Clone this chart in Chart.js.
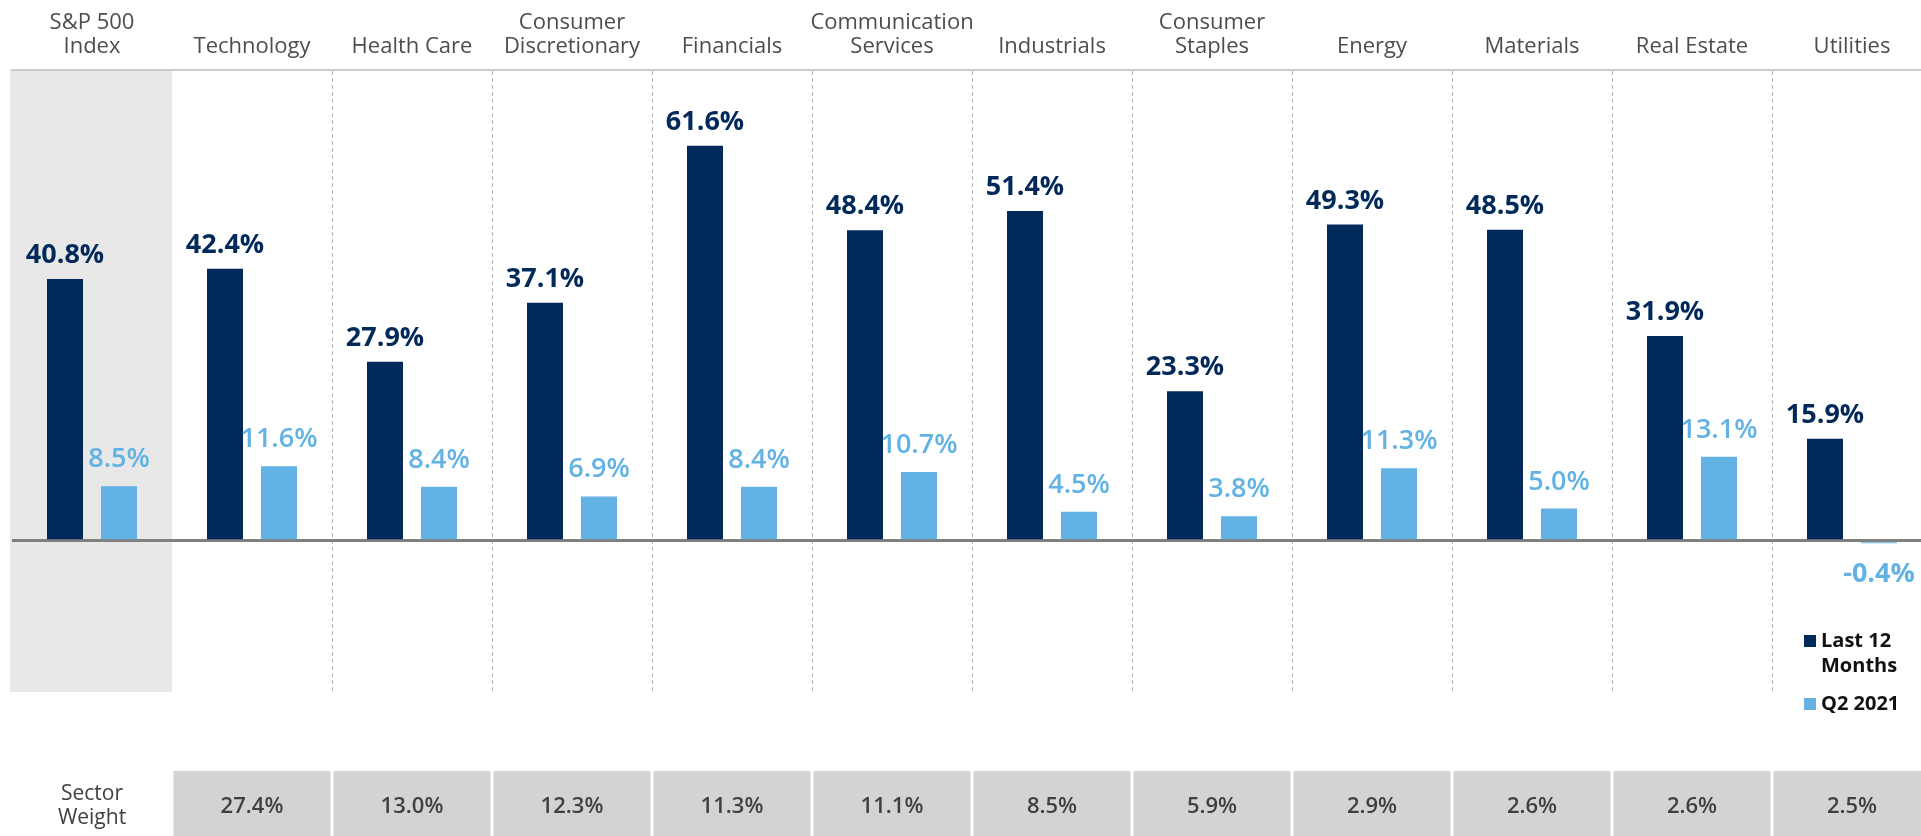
<!DOCTYPE html>
<html>
<head>
<meta charset="utf-8">
<title>Sector returns</title>
<script src="https://cdn.jsdelivr.net/npm/chart.js@4.4.1/dist/chart.umd.min.js"></script>
<style>
  html, body { margin: 0; padding: 0; background: #fff; overflow: hidden; }
  #wrap { width: 1934px; height: 836px; }
</style>
</head>
<body>
<div id="wrap"><canvas id="chart" width="1934" height="836"></canvas></div>
<script>
(function () {
  'use strict';

  // data
  const categories = [
    ['S&P 500', 'Index'], 'Technology', 'Health Care', ['Consumer', 'Discretionary'],
    'Financials', ['Communication', 'Services'], 'Industrials', ['Consumer', 'Staples'],
    'Energy', 'Materials', 'Real Estate', 'Utilities',
  ];
  const last12Months = [40.8, 42.4, 27.9, 37.1, 61.6, 48.4, 51.4, 23.3, 49.3, 48.5, 31.9, 15.9];
  const q2_2021      = [8.5, 11.6, 8.4, 6.9, 8.4, 10.7, 4.5, 3.8, 11.3, 5.0, 13.1, -0.4];
  const sectorWeights = [null, 27.4, 13.0, 12.3, 11.3, 11.1, 8.5, 5.9, 2.9, 2.6, 2.6, 2.5];
  const weightTitle  = ['Sector', 'Weight'];
  const seriesNames  = ['Last 12 Months', 'Q2 2021'];
  const legendLines  = [['Last 12', 'Months'], ['Q2 2021']];

  const FONT = '"Open Sans", "Noto Sans", sans-serif';
  const NAVY = '#01295A';
  const SKY  = '#62B2E4';

  function pct(v) { return v.toFixed(1) + '%'; }

  // grey backdrop behind the index column
  const benchmarkPanel = {
    id: 'benchmarkPanel',
    beforeDraw(chart) {
      const { ctx, chartArea, scales: { x } } = chart;
      const half = x.width / categories.length / 2;
      const cx = x.getPixelForValue(0);
      ctx.save();
      ctx.fillStyle = '#E8E8E8';
      ctx.fillRect(cx - half - 2, chartArea.top, half * 2 + 2, chartArea.bottom - chartArea.top);
      ctx.restore();
    },
  };

  const valueLabels = {
    id: 'valueLabels',
    afterDatasetsDraw(chart) {
      const { ctx } = chart;
      ctx.save();
      ctx.textAlign = 'center';
      ctx.textBaseline = 'alphabetic';
      chart.data.datasets.forEach((ds, di) => {
        chart.getDatasetMeta(di).data.forEach((bar, i) => {
          const v = ds.data[i];
          const neg = v < 0;
          ctx.fillStyle = ds.backgroundColor;
          ctx.font = `${neg || di === 0 ? 700 : 600} 27px ${FONT}`;
          const y = neg ? bar.y + 39 : bar.y - (di === 0 ? 16 : 19);
          ctx.fillText(pct(v), bar.x, y);
        });
      });
      ctx.restore();
    },
  };

  const weightRow = {
    id: 'weightRow',
    afterDraw(chart) {
      const { ctx, chartArea, scales: { x } } = chart;
      const colW = x.width / categories.length;
      const top = chartArea.bottom + 79;
      const h = chart.height - top;
      ctx.save();
      ctx.textAlign = 'center';
      ctx.textBaseline = 'middle';
      ctx.fillStyle = '#404040';
      ctx.font = `400 21px ${FONT}`;
      weightTitle.forEach((t, k) => ctx.fillText(t, x.getPixelForValue(0), top + 23 + k * 24));
      sectorWeights.forEach((w, i) => {
        if (w == null) return;
        const cx = x.getPixelForValue(i);
        ctx.fillStyle = '#D3D3D3';
        ctx.fillRect(cx - colW / 2 + 1.5, top, colW - 3, h);
        ctx.fillStyle = '#404040';
        ctx.font = `600 22px ${FONT}`;
        ctx.fillText(pct(w), cx, top + h / 2 + 3);
      });
      ctx.restore();
    },
  };

  const sideLegend = {
    id: 'sideLegend',
    afterDraw(chart) {
      const { ctx } = chart;
      const rowsY = [641, 704];
      ctx.save();
      ctx.font = `700 20px ${FONT}`;
      ctx.textAlign = 'left';
      ctx.textBaseline = 'middle';
      chart.data.datasets.forEach((ds, di) => {
        const y = rowsY[di];
        ctx.fillStyle = ds.backgroundColor;
        ctx.fillRect(1804, y - 6, 12, 12);
        ctx.fillStyle = '#111111';
        legendLines[di].forEach((t, k) => ctx.fillText(t, 1821, y + k * 25));
      });
      ctx.restore();
    },
  };

  new Chart(document.getElementById('chart'), {
    type: 'bar',
    data: {
      labels: categories,
      datasets: [
        { label: seriesNames[0], data: last12Months, backgroundColor: NAVY },
        { label: seriesNames[1], data: q2_2021, backgroundColor: SKY },
      ],
    },
    options: {
      responsive: false,
      animation: false,
      events: [],
      devicePixelRatio: 1,
      categoryPercentage: 0.675,
      barPercentage: 0.667,
      layout: { padding: { left: 12, right: 2, top: 0, bottom: 144 } },
      plugins: { legend: { display: false }, tooltip: { enabled: false } },
      scales: {
        x: {
          position: 'top',
          grid: {
            offset: true,
            drawTicks: false,
            lineWidth: 1,
            color: c => (c.type === 'tick' && c.index >= 2) ? '#B5B5B5' : 'rgba(0,0,0,0)',
          },
          border: { display: true, color: '#CBCBCB', width: 2, dash: [4, 3] },
          ticks: {
            autoSkip: false,
            maxRotation: 0,
            padding: 11,
            color: '#4D4D4D',
            font: { family: FONT, size: 22, lineHeight: 1.1 },
          },
          afterFit: s => { s.height = 70; },
        },
        y: {
          min: -23.6,
          max: 73.4,
          z: 1,
          ticks: { display: false },
          grid: { drawTicks: false, color: '#808080', lineWidth: 3 },
          border: { display: false },
          afterBuildTicks: s => { s.ticks = [{ value: 0 }]; },
          afterFit: s => { s.width = 0; },
        },
      },
    },
    plugins: [benchmarkPanel, valueLabels, weightRow, sideLegend],
  });
})();
</script>
</body>
</html>
